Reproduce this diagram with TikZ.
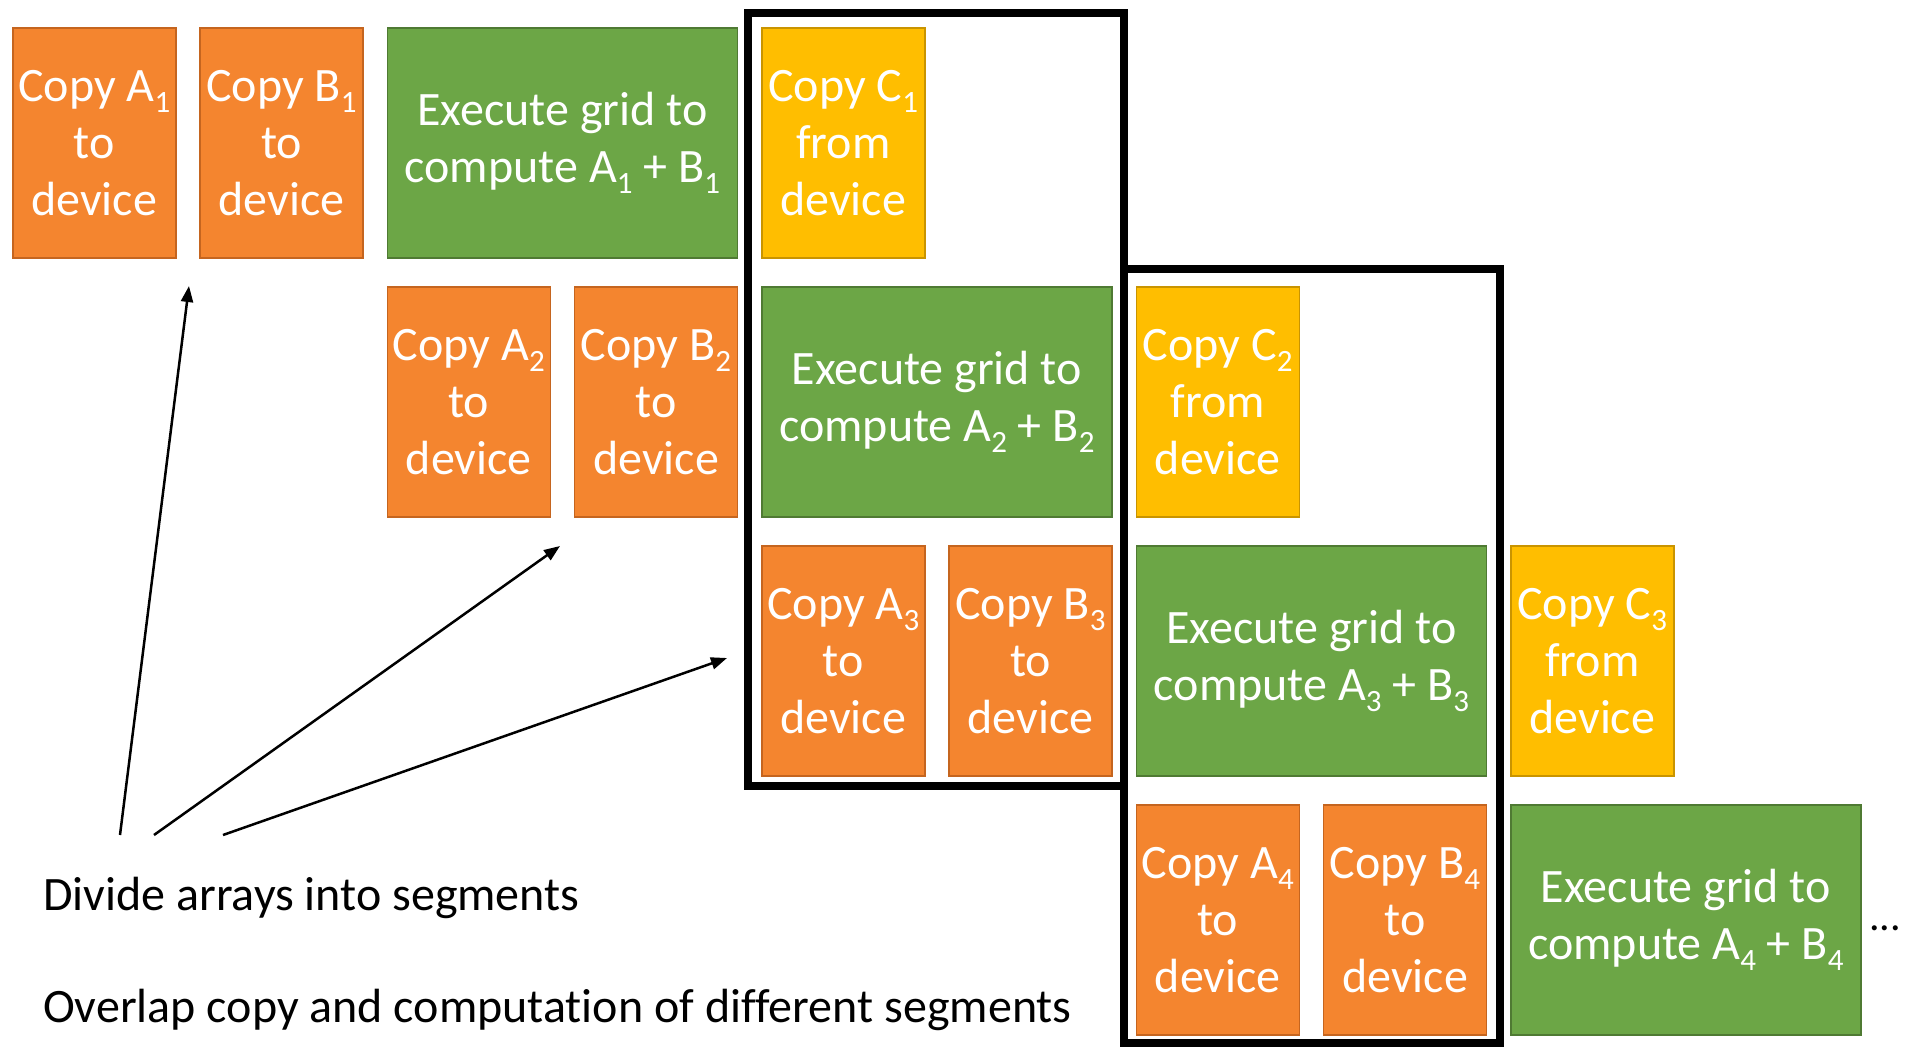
\documentclass[tikz,border=0pt]{standalone}
\usepackage{fontspec}
\setmainfont[Ligatures=NoCommon]{Carlito}
\usetikzlibrary{arrows.meta}
\definecolor{orfill}{HTML}{F4852F}
\definecolor{ordraw}{HTML}{C5651F}
\definecolor{grfill}{HTML}{6CA646}
\definecolor{grdraw}{HTML}{4F7A33}
\definecolor{gdfill}{HTML}{FFBE00}
\definecolor{gddraw}{HTML}{C99400}
\newcommand\sbs[1]{\raisebox{-11pt}{\fontsize{31}{31}\selectfont #1}}
\tikzset{
  box/.style={anchor=north west, inner sep=0pt, minimum width=163pt, minimum height=230pt,
    align=center, text=white, font=\fontsize{48}{57}\selectfont, line width=1.5pt},
  copybox/.style={box, fill=orfill, draw=ordraw},
  execbox/.style={box, fill=grfill, draw=grdraw, minimum width=350.25pt},
  retbox/.style={box, fill=gdfill, draw=gddraw},
  stagebox/.style={line width=7.5pt, draw=black},
  arr/.style={-{Triangle[length=16pt,width=12pt]}, line width=2.5pt},
  caption/.style={anchor=base west, inner sep=0pt, font=\fontsize{48}{57}\selectfont}
}
\begin{document}
\begin{tikzpicture}[x=1pt,y=-1pt]
\useasboundingbox (0,0) rectangle (1907,1061);
% column and row origins
\def\cA{12}\def\cB{199.25}\def\cC{386.5}\def\cD{573.75}\def\cE{761}
\def\cF{948.25}\def\cG{1135.5}\def\cH{1322.75}\def\cI{1510}
\def\rA{27}\def\rB{286}\def\rC{545}\def\rD{804}
% row 1
\node[copybox] (a1) at (\cA,\rA) {Copy A\sbs{1}\\to\\device};
\node[copybox] (b1) at (\cB,\rA) {Copy B\sbs{1}\\to\\device};
\node[execbox] (e1) at (\cC,\rA) {Execute grid to\\compute A\sbs{1} + B\sbs{1}};
\node[retbox]  (k1) at (\cE,\rA) {Copy C\sbs{1}\\from\\device};
% row 2
\node[copybox] (a2) at (\cC,\rB) {Copy A\sbs{2}\\to\\device};
\node[copybox] (b2) at (\cD,\rB) {Copy B\sbs{2}\\to\\device};
\node[execbox] (e2) at (\cE,\rB) {Execute grid to\\compute A\sbs{2} + B\sbs{2}};
\node[retbox]  (k2) at (\cG,\rB) {Copy C\sbs{2}\\from\\device};
% row 3
\node[copybox] (a3) at (\cE,\rC) {Copy A\sbs{3}\\to\\device};
\node[copybox] (b3) at (\cF,\rC) {Copy B\sbs{3}\\to\\device};
\node[execbox] (e3) at (\cG,\rC) {Execute grid to\\compute A\sbs{3} + B\sbs{3}};
\node[retbox]  (k3) at (\cI,\rC) {Copy C\sbs{3}\\from\\device};
% row 4
\node[copybox] (a4) at (\cG,\rD) {Copy A\sbs{4}\\to\\device};
\node[copybox] (b4) at (\cH,\rD) {Copy B\sbs{4}\\to\\device};
\node[execbox] (e4) at (\cI,\rD) {Execute grid to\\compute A\sbs{4} + B\sbs{4}};
\node[anchor=base west, inner sep=0pt, font=\fontsize{42}{50}\selectfont] (dots) at (1869,930) {...};
% stage frames
\draw[stagebox] (748,13) rectangle (1124,786);
\draw[stagebox] (1124,269) rectangle (1500,1043);
% captions
\node[caption] (div) at (43,910) {Divide arrays into segments};
\node[caption] (ovl) at (43,1022) {Overlap copy and computation of different segments};
% arrows
\coordinate (s1) at (120,835); \coordinate (t1) at (189,286);
\coordinate (s2) at (154,835); \coordinate (t2) at (560,546);
\coordinate (s3) at (223,835); \coordinate (t3) at (727,658);
\draw[arr] (s1) -- (t1);
\draw[arr] (s2) -- (t2);
\draw[arr] (s3) -- (t3);
\end{tikzpicture}
\end{document}
